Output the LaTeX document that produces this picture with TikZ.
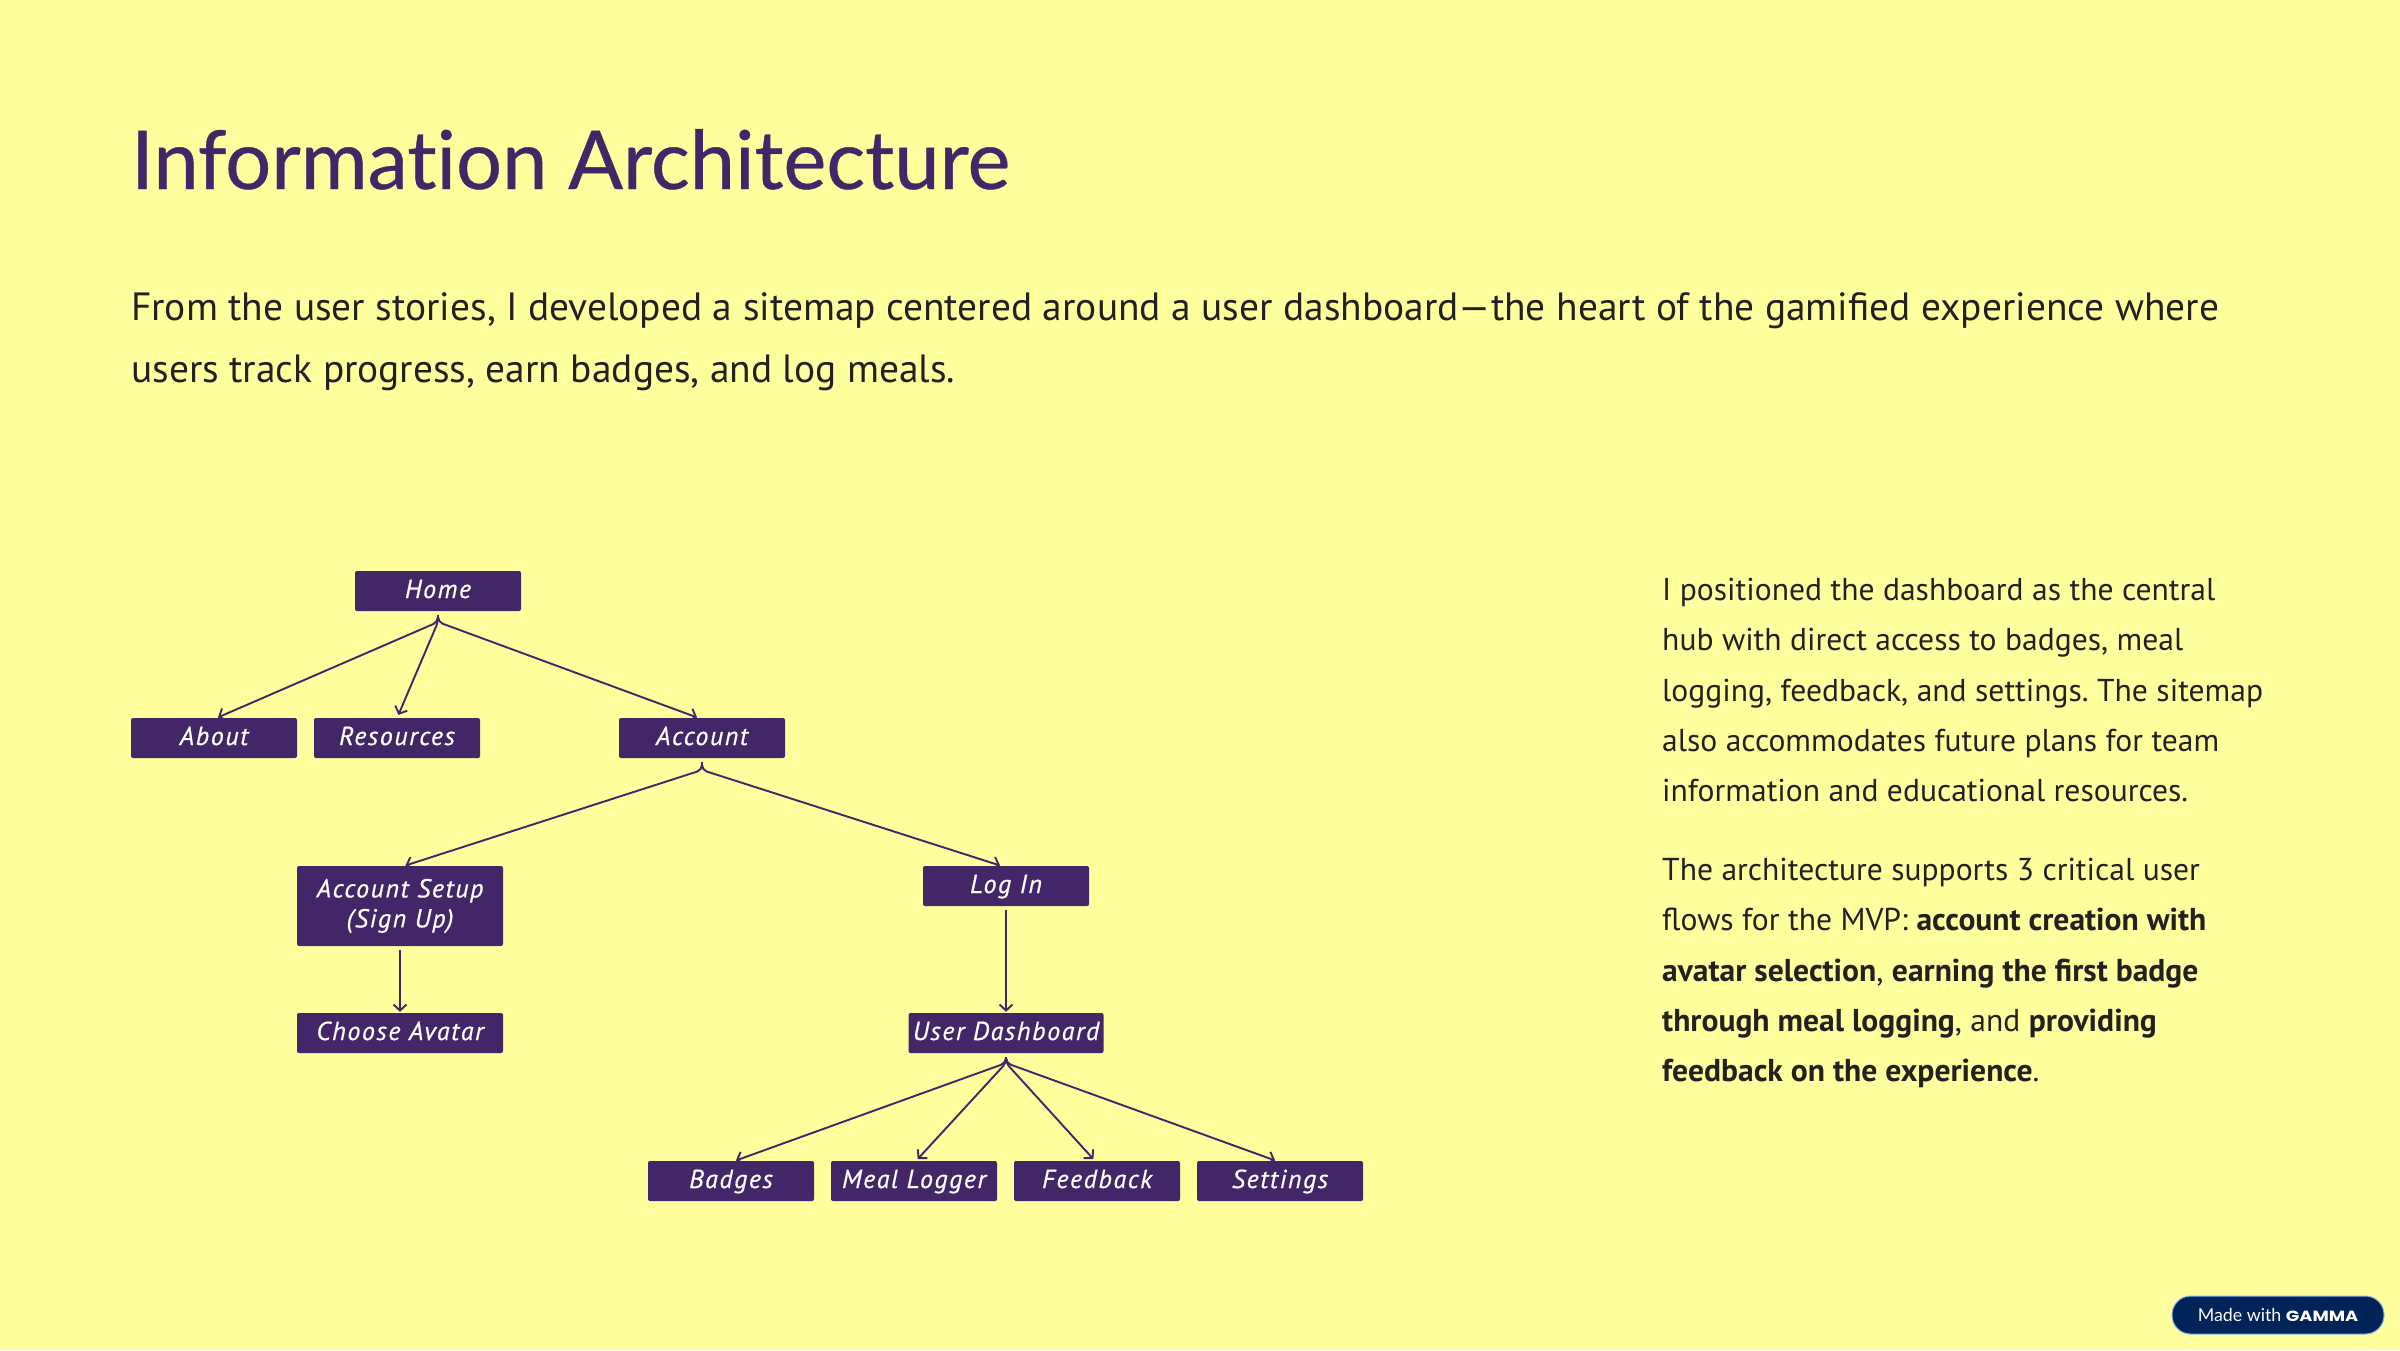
\documentclass[tikz,border=0pt]{standalone}
\usepackage{fontspec}
\setmainfont{PT Sans}
\newfontfamily\titlefont[Ligatures=NoCommon,FakeBold=0.5]{Lato}
\newfontfamily\handfont[LetterSpace=6,FakeBold=0.6]{PT Sans}
\newfontfamily\badgefont{Lato}
\newfontfamily\gammafont[FakeStretch=1.2]{Poppins}
\usetikzlibrary{arrows.meta}
\definecolor{pagebg}{HTML}{FFFF9E}
\definecolor{plum}{HTML}{432667}
\definecolor{ink}{HTML}{23201F}
\definecolor{badgeblue}{HTML}{00235A}
\definecolor{badgeedge}{HTML}{8DB6E8}
\tikzset{
  boxbase/.style={fill=plum,text=white,rounded corners=2pt,inner sep=0pt,minimum width=166pt,minimum height=40pt,align=center,font=\handfont\itshape\fontsize{26}{30}\selectfont},
  boxnode/.style={boxbase,text height=20pt,text depth=6pt},
  link/.style={draw=plum,line width=1.9pt,shorten <=4pt,shorten >=1pt,rounded corners=5pt,-{Straight Barb[length=6pt,width=13pt,line width=1.9pt]}},
  bodytext/.style={text=ink,anchor=north west,inner sep=0pt,align=left},
}
\frenchspacing
\begin{document}
\begin{tikzpicture}[x=1pt,y=-1pt]
\useasboundingbox (0,0) rectangle (2400,1350);
\fill[pagebg] (0,0) rectangle (2400,1350);
\node[anchor=base west,inner sep=0pt,text=plum,font=\titlefont\fontsize{81.2}{90}\selectfont] (title) at (131,189) {Information Architecture};
\node[bodytext,font=\fontsize{39.4}{62.5}\selectfont] (intro) at (131,292) {From the user stories, I developed a sitemap centered around a user dashboard—the heart of the gamified experience where\\users track progress, earn badges, and log meals.};
\node[bodytext,font=\fontsize{31.6}{50.3}\selectfont] (para1) at (1662,578) {I positioned the dashboard as the central\\hub with direct access to badges, meal\\logging, feedback, and settings. The sitemap\\also accommodates future plans for team\\information and educational resources.};
\node[bodytext,font=\fontsize{31.6}{50.3}\selectfont] (para2) at (1662,858) {The architecture supports 3 critical user\\flows for the MVP: \textbf{account creation with}\\\textbf{avatar selection}, \textbf{earning the first badge}\\\textbf{through meal logging}, and \textbf{providing}\\\textbf{feedback on the experience}.};

\node[boxnode] (home) at (438,591) {Home};
\node[boxnode] (about) at (214,738) {About};
\node[boxnode] (resources) at (397,738) {Resources};
\node[boxnode] (account) at (702,738) {Account};
\node[boxbase,minimum width=206pt,minimum height=80pt] (setup) at (400,906) {Account Setup\\(Sign Up)};
\node[boxnode,minimum width=206pt] (avatar) at (400,1033) {Choose Avatar};
\node[boxnode] (login) at (1006,886) {Log In};
\node[boxnode,minimum width=195pt] (dash) at (1006,1033) {User Dashboard};
\node[boxnode] (badges) at (731,1181) {Badges};
\node[boxnode] (meal) at (914,1181) {Meal Logger};
\node[boxnode] (feedback) at (1097,1181) {Feedback};
\node[boxnode] (settings) at (1280,1181) {Settings};

\coordinate (homejoin) at (438,622);
\coordinate (accountjoin) at (702,770);
\coordinate (dashjoin) at (1006,1063);

\draw[link] (home.south) -- (homejoin) -- ([xshift=3pt]about.north);
\draw[link] (home.south) -- (homejoin) -- ([xshift=1pt,yshift=2pt]resources.north);
\draw[link] (home.south) -- (homejoin) -- ([xshift=-4pt]account.north);
\draw[link] (account.south) -- (accountjoin) -- ([xshift=4.5pt]setup.north);
\draw[link] (account.south) -- (accountjoin) -- ([xshift=-5pt]login.north);
\draw[link] (setup.south) -- (avatar.north);
\draw[link] (login.south) -- (dash.north);
\draw[link] (dash.south) -- (dashjoin) -- ([xshift=4pt]badges.north);
\draw[link] (dash.south) -- (dashjoin) -- ([xshift=3pt,yshift=1pt]meal.north);
\draw[link] (dash.south) -- (dashjoin) -- ([xshift=-3pt,yshift=1pt]feedback.north);
\draw[link] (dash.south) -- (dashjoin) -- ([xshift=-4pt]settings.north);

\node[draw=badgeedge,line width=1pt,fill=badgeblue,rounded corners=18.5pt,minimum width=212pt,minimum height=38pt,inner sep=0pt,text=white,font=\badgefont\fontsize{17.8}{20}\selectfont] (badge) at (2278,1315) {Made with {\gammafont\bfseries\fontsize{14.8}{20}\selectfont GAMMA}};
\end{tikzpicture}
\end{document}
